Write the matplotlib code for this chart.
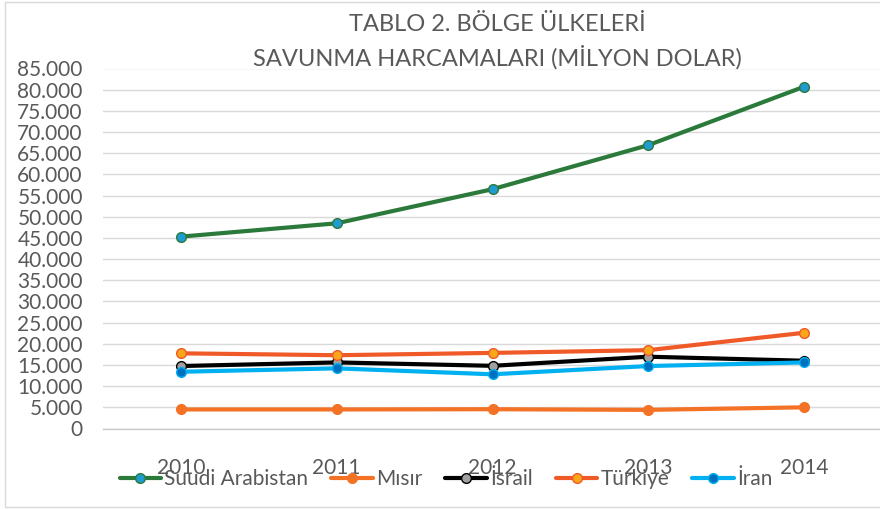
import matplotlib
matplotlib.use("Agg")
import matplotlib.pyplot as plt
from matplotlib.patches import Rectangle
from matplotlib.ticker import FuncFormatter, MultipleLocator
import numpy as np

plt.rcParams.update({
    "font.family": ["Lato", "DejaVu Sans"],
    "text.color": "#595959",
    "xtick.color": "#595959",
    "ytick.color": "#595959",
})

# ---- data (milyon dolar) ----
years = ["2010", "2011", "2012", "2013", "2014"]
suudi = [45300, 48450, 56500, 66900, 80700]
misir = [4500, 4500, 4550, 4400, 5000]
israil = [14750, 15600, 14800, 16950, 16000]
turkiye = [17750, 17300, 17850, 18500, 22600]
iran = [13400, 14200, 12800, 14750, 15600]

series_names = ["Suudi Arabistan", "Mısır", "İsrail", "Türkiye", "İran"]
series_values = [suudi, misir, israil, turkiye, iran]
# (çizgi rengi, işaret dolgusu)
styles = [
    ("#2B7A3B", "#1F9BD0"),
    ("#F47225", "#F47225"),
    ("#000000", "#A0A0A0"),
    ("#F05A28", "#F9A61A"),
    ("#00B0F0", "#0070C0"),
]

W, H = 880, 509
fig = plt.figure(figsize=(W / 100, H / 100), dpi=100)
ax = fig.add_axes([103 / W, 80.5 / H, 779 / W, 360 / H])

x = np.arange(len(years))
for name, vals, (lc, mc) in zip(series_names, series_values, styles):
    ax.plot(x, vals, color=lc, linewidth=3.0, marker="o", markersize=7,
            markerfacecolor=mc, markeredgecolor=lc, markeredgewidth=1.0,
            label=name, solid_capstyle="round")

ax.set_xlim(-0.5, len(years) - 0.5)
ax.set_ylim(0, 85000)
ax.yaxis.set_major_locator(MultipleLocator(5000))
ax.yaxis.set_major_formatter(FuncFormatter(lambda v, p: f"{int(v):,}".replace(",", ".")))
ax.set_xticks(x)
ax.set_xticklabels(years)
ax.grid(axis="y", color="#D9D9D9", linewidth=1.0)
ax.set_axisbelow(True)
for s in ["top", "right", "left"]:
    ax.spines[s].set_visible(False)
ax.spines["bottom"].set_color("#C8C8C8")
ax.spines["bottom"].set_linewidth(1.0)
ax.tick_params(axis="y", length=0, pad=14.5, labelsize=15)
ax.tick_params(axis="x", length=0, pad=21, labelsize=15)

fig.text(497 / W, 1 - 31 / H, "TABLO 2. BÖLGE ÜLKELERİ", ha="center", va="baseline",
         fontsize=17, color="#595959")
fig.text(497 / W, 1 - 66 / H, "SAVUNMA HARCAMALARI (MİLYON DOLAR)", ha="center",
         va="baseline", fontsize=17, color="#595959")

fig.legend(loc="center", bbox_to_anchor=(446 / W, 1 - 479 / H), ncol=5,
           frameon=False, fontsize=15, handlelength=2.0, handletextpad=0.15,
           columnspacing=1.1, borderaxespad=0, borderpad=0)

fig.patches.append(Rectangle((5 / W, 2 / H), 1.0, 1 - 4 / H, transform=fig.transFigure,
                             fill=False, edgecolor="#D9D9D9", linewidth=1.0))

fig.savefig("out.png", dpi=100)
